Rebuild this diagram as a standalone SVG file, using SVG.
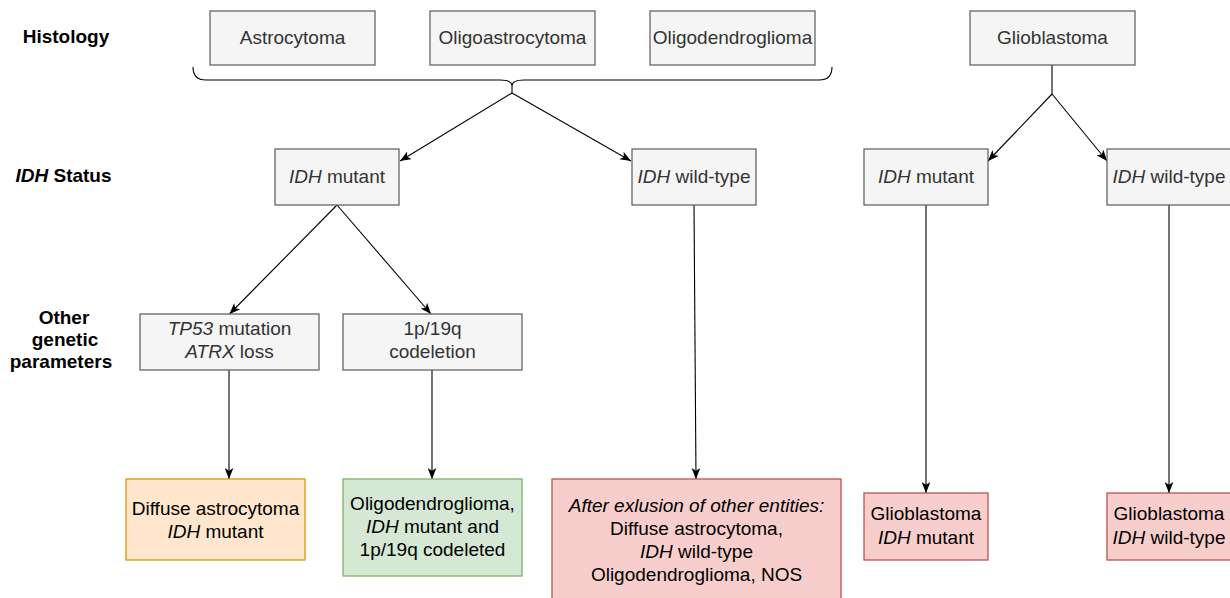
<svg xmlns="http://www.w3.org/2000/svg" width="1230" height="598" viewBox="0 0 1230 598">
<defs>
<style>
.g rect{fill:#f5f5f5;stroke:#666666;stroke-width:1.3}
.g text{fill:#333333}
text{font-family:"Liberation Sans",Arial,sans-serif;font-size:19px;text-anchor:middle}
.lbl{font-weight:bold;fill:#000;font-size:19px}
.or rect{fill:#ffe6cc;stroke:#d79b00;stroke-width:1.3}
.gr rect{fill:#d5e8d4;stroke:#82b366;stroke-width:1.3}
.rd rect{fill:#f8cecc;stroke:#b85450;stroke-width:1.3}
.or text,.gr text,.rd text{fill:#000}
.c line,.c path{stroke:#000;stroke-width:1.1;fill:none}
.a{marker-end:url(#arr)}
</style>
<marker id="arr" markerUnits="userSpaceOnUse" viewBox="0 0 10 8" refX="10" refY="4" markerWidth="11" markerHeight="9" orient="auto">
<path d="M0,0 L10,4 L0,8 L2.5,4 Z" fill="#000"/>
</marker>
</defs>
<rect width="1230" height="598" fill="#fff"/>

<g id="labels">
<text class="lbl" x="66" y="43">Histology</text>
<text class="lbl" x="63.5" y="182"><tspan font-style="italic">IDH</tspan> Status</text>
<text class="lbl" x="64" y="324">Other</text>
<text class="lbl" x="65" y="346">genetic</text>
<text class="lbl" x="61" y="368">parameters</text>
</g>

<g class="c" id="connectors">
<path d="M193,67 Q193,80 206,80 L500,80 Q512,80 512,86 Q512,80 524,80 L819,80 Q832,80 832,67"/>
<line x1="512" y1="86" x2="512" y2="93"/>
<line class="a" x1="512" y1="93" x2="400" y2="161"/>
<line class="a" x1="512" y1="93" x2="631" y2="161"/>
<line x1="1052" y1="65" x2="1052" y2="94"/>
<line class="a" x1="1052" y1="94" x2="988" y2="161"/>
<line class="a" x1="1052" y1="94" x2="1107" y2="161"/>
<line class="a" x1="337" y1="205" x2="229.5" y2="314"/>
<line class="a" x1="337" y1="205" x2="431" y2="314"/>
<line class="a" x1="229" y1="370" x2="229" y2="479"/>
<line class="a" x1="432" y1="370" x2="432" y2="479"/>
<line class="a" x1="694" y1="205" x2="696" y2="479"/>
<line class="a" x1="926" y1="205" x2="926" y2="493"/>
<line class="a" x1="1169" y1="205" x2="1169" y2="493"/>
</g>

<g id="n-astro" class="g"><rect x="210" y="11" width="165" height="54"/><text x="292.5" y="44">Astrocytoma</text></g>
<g id="n-oligoastro" class="g"><rect x="430" y="11" width="165" height="54"/><text x="512.5" y="44">Oligoastrocytoma</text></g>
<g id="n-oligodendro" class="g"><rect x="650" y="11" width="165" height="54"/><text x="732.5" y="44">Oligodendroglioma</text></g>
<g id="n-gbm" class="g"><rect x="970" y="11" width="165" height="54"/><text x="1052.5" y="44">Glioblastoma</text></g>

<g id="n-idhmut" class="g"><rect x="275" y="149" width="124" height="56"/><text x="337" y="183"><tspan font-style="italic">IDH</tspan> mutant</text></g>
<g id="n-idhwt" class="g"><rect x="632" y="149" width="124" height="56"/><text x="694" y="183"><tspan font-style="italic">IDH</tspan> wild-type</text></g>
<g id="n-gbm-idhmut" class="g"><rect x="864" y="149" width="124" height="56"/><text x="926" y="183"><tspan font-style="italic">IDH</tspan> mutant</text></g>
<g id="n-gbm-idhwt" class="g"><rect x="1107" y="149" width="124" height="56"/><text x="1169" y="183"><tspan font-style="italic">IDH</tspan> wild-type</text></g>

<g id="n-tp53" class="g"><rect x="140" y="314" width="179" height="56"/><text x="229.5" y="335"><tspan font-style="italic">TP53</tspan> mutation</text><text x="229.5" y="358"><tspan font-style="italic">ATRX</tspan> loss</text></g>
<g id="n-1p19q" class="g"><rect x="343" y="314" width="179" height="56"/><text x="432.5" y="335">1p/19q</text><text x="432.5" y="358">codeletion</text></g>

<g id="r-diffuse" class="or"><rect x="126" y="479" width="179" height="81"/><text x="215.5" y="514.5">Diffuse astrocytoma</text><text x="215.5" y="537.5"><tspan font-style="italic">IDH</tspan> mutant</text></g>
<g id="r-oligo" class="gr"><rect x="343" y="479" width="179" height="97"/><text x="432.5" y="510">Oligodendroglioma,</text><text x="432.5" y="533"><tspan font-style="italic">IDH</tspan> mutant and</text><text x="432.5" y="556">1p/19q codeleted</text></g>
<g id="r-nos" class="rd"><rect x="552" y="479" width="289" height="130"/><text x="696.5" y="511.5" font-style="italic">After exlusion of other entities:</text><text x="696.5" y="534.5">Diffuse astrocytoma,</text><text x="696.5" y="557.5"><tspan font-style="italic">IDH</tspan> wild-type</text><text x="696.5" y="580.5">Oligodendroglioma, NOS</text></g>
<g id="r-gbm-mut" class="rd"><rect x="864" y="493" width="124" height="67"/><text x="926" y="520">Glioblastoma</text><text x="926" y="543.5"><tspan font-style="italic">IDH</tspan> mutant</text></g>
<g id="r-gbm-wt" class="rd"><rect x="1107" y="493" width="124" height="67"/><text x="1169" y="520">Glioblastoma</text><text x="1169" y="543.5"><tspan font-style="italic">IDH</tspan> wild-type</text></g>
</svg>
